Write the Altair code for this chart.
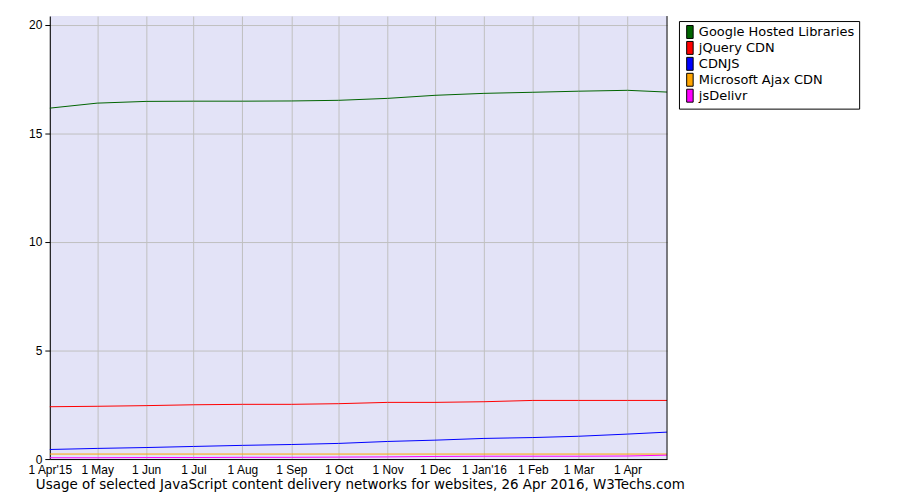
import altair as alt
import pandas as pd

dates = ["2015-04-01", "2015-05-01", "2015-06-01", "2015-07-01", "2015-08-01",
         "2015-09-01", "2015-10-01", "2015-11-01", "2015-12-01", "2016-01-01",
         "2016-02-01", "2016-03-01", "2016-04-01", "2016-04-26"]
google = [16.16, 16.39, 16.47, 16.48, 16.48, 16.49, 16.52, 16.61, 16.75, 16.84, 16.89, 16.94, 16.98, 16.90]
jquery = [2.41, 2.43, 2.46, 2.50, 2.52, 2.52, 2.55, 2.61, 2.61, 2.64, 2.70, 2.70, 2.70, 2.70]
cdnjs = [0.44, 0.49, 0.53, 0.58, 0.63, 0.67, 0.72, 0.81, 0.87, 0.95, 0.99, 1.05, 1.15, 1.24]
msajax = [0.23, 0.23, 0.23, 0.23, 0.23, 0.23, 0.23, 0.23, 0.23, 0.23, 0.23, 0.23, 0.23, 0.23]
jsdelivr = [0.06, 0.06, 0.07, 0.07, 0.08, 0.08, 0.09, 0.10, 0.12, 0.13, 0.13, 0.13, 0.14, 0.18]

series_names = ["Google Hosted Libraries", "jQuery CDN", "CDNJS", "Microsoft Ajax CDN", "jsDelivr"]
series_colors = ["#006400", "#ff0000", "#0000ff", "#ffa500", "#ff00ff"]
title_text = "Usage of selected JavaScript content delivery networks for websites, 26 Apr 2016, W3Techs.com"

rows = []
for name, vals in zip(series_names, [google, jquery, cdnjs, msajax, jsdelivr]):
    for d, v in zip(dates, vals):
        rows.append({"date": d, "value": v, "series": name})
df = pd.DataFrame(rows)

W, H = 620, 445
font = "DejaVu Sans"
axfont = "Liberation Sans"

tick_dates = [alt.DateTime(year=int(d[:4]), month=int(d[5:7]), date=1, utc=True) for d in dates[:13]]

x_enc = alt.X("date:T", scale=alt.Scale(type="utc", domain=[alt.DateTime(year=2015, month=4, date=1, utc=True),
                                                         alt.DateTime(year=2016, month=4, date=26, utc=True)], nice=False),
              axis=alt.Axis(title=None, values=tick_dates, grid=True, gridColor="#c0c0c0", gridWidth=1,
                            ticks=False, labelPadding=6, labelFont=axfont, labelFontSize=12, labelColor="#000",
                            domainColor="#000", labelFlush=False, labelOverlap=False,
                            labelExpr="(utcmonth(datum.value) == 0 || (utcyear(datum.value) == 2015 && utcmonth(datum.value) == 3)) ? utcFormat(datum.value, \"1 %b'%y\") : utcFormat(datum.value, '1 %b')"))
y_enc = alt.Y("value:Q", scale=alt.Scale(domain=[0, 20.4], nice=False, zero=True),
              axis=alt.Axis(title=None, values=[0, 5, 10, 15, 20], grid=True, gridColor="#c0c0c0",
                            tickColor="#000", tickSize=5, domainColor="#000", labelFont=axfont,
                            labelFontSize=12, labelColor="#000", labelPadding=3))

lines = alt.Chart(df).mark_line(strokeWidth=1, interpolate="linear").encode(
    x=x_enc, y=y_enc,
    stroke=alt.Stroke("series:N", scale=alt.Scale(range=series_colors), sort=series_names, legend=None),
)

legend_pts = alt.Chart(df).mark_point(filled=True, opacity=0).encode(
    x=x_enc, y=y_enc,
    fill=alt.Fill("series:N", scale=alt.Scale(domain=series_names, range=series_colors),
                  legend=alt.Legend(title=None, orient="none", legendX=W + 12, legendY=5,
                                    symbolType="M-0.5,-1H0.5V1H-0.5Z", symbolSize=169,
                                    symbolStrokeColor="#000", symbolStrokeWidth=1, symbolOpacity=1,
                                    labelFont=font, labelFontSize=13, labelColor="#000",
                                    rowPadding=-3.4, symbolOffset=0, labelOffset=2,
                                    strokeColor="#000", padding=4, fillColor="#fff")),
)

right_border = alt.Chart(pd.DataFrame({"a": [0]})).mark_rule(color="#000", strokeWidth=1).encode(
    x=alt.value(W), y=alt.value(0), y2=alt.value(H))

title = alt.Chart(pd.DataFrame({"t": [title_text]})).mark_text(
    align="left", baseline="middle", font=font, fontSize=13.5, color="#000").encode(
    x=alt.value(-14), y=alt.value(H + 26), text="t:N")

chart = alt.layer(lines, legend_pts, right_border, title).resolve_scale(
    fill="independent", stroke="independent"
).properties(
    width=W, height=H,
    autosize=alt.AutoSizeParams(type="none"),
    padding={"left": 42, "top": 7, "right": 226, "bottom": 32},
    background="#ffffff",
).configure_view(fill="#e3e3f7", stroke=None)

chart.save("out.html", embed_options={"renderer": "svg", "actions": False})
